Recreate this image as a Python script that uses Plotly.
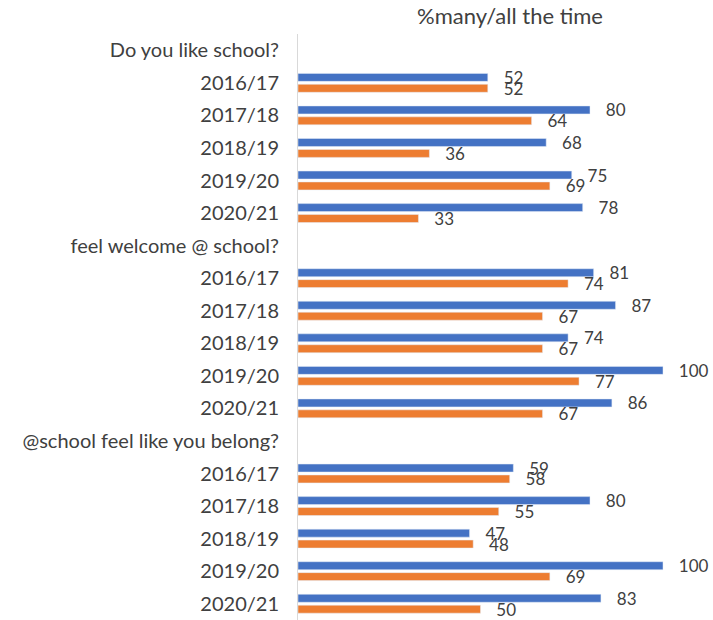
import plotly.graph_objects as go

questions = ["Do you like school?", "feel welcome @ school?", "@school feel like you belong?"]
years = ["2016/17", "2017/18", "2018/19", "2019/20", "2020/21"]
blue_like = [52, 80, 68, 75, 78]
orange_like = [52, 64, 36, 69, 33]
blue_welcome = [81, 87, 74, 100, 86]
orange_welcome = [74, 67, 67, 77, 67]
blue_belong = [59, 80, 47, 100, 83]
orange_belong = [58, 55, 48, 69, 50]
title_text = "%many/all the time"

blue_sets = [blue_like, blue_welcome, blue_belong]
orange_sets = [orange_like, orange_welcome, orange_belong]

ypos, ylabels, bvals, ovals = [], [], [], []
k = 0
for q, bs, os_ in zip(questions, blue_sets, orange_sets):
    ypos.append(k); ylabels.append(q); bvals.append(None); ovals.append(None)
    k += 1
    for yr, b, o in zip(years, bs, os_):
        ypos.append(k); ylabels.append(yr); bvals.append(b); ovals.append(o)
        k += 1

FONT = "Lato, 'Open Sans', sans-serif"
PAD = "\u2002\u00a0"

def labels(vals):
    return [("" if v is None else PAD + str(v)) for v in vals]

fig = go.Figure()
fig.add_trace(go.Bar(
    x=bvals, y=ypos, orientation="h", marker_color="#4472C4",
    text=labels(bvals), textposition="outside", constraintext="none",
    textfont=dict(size=17, color="#404040", family=FONT), cliponaxis=False,
    name="blue"))
fig.add_trace(go.Bar(
    x=ovals, y=ypos, orientation="h", marker_color="#ED7D31",
    text=labels(ovals), textposition="outside", constraintext="none",
    textfont=dict(size=17, color="#404040", family=FONT), cliponaxis=False,
    name="orange"))

fig.update_layout(
    width=713, height=620,
    margin=dict(l=298, r=0, t=34, b=0, autoexpand=False),
    barmode="group", bargap=0.33, bargroupgap=0.27,
    showlegend=False,
    plot_bgcolor="white", paper_bgcolor="white",
    font=dict(family=FONT, size=20, color="#404040"),
    title=dict(text=title_text, x=510 / 713, xanchor="center", y=1 - 16 / 620, yanchor="middle",
               font=dict(size=22, color="#404040", family=FONT)),
    xaxis=dict(range=[0, 113.7], showgrid=False, showticklabels=False, zeroline=False,
               showline=False, ticks=""),
    yaxis=dict(tickvals=ypos, ticktext=ylabels, range=[17.5, -0.5], showgrid=False,
               zeroline=False, showline=True, linecolor="#D9D9D9", linewidth=1,
               ticks="", ticklabelstandoff=14, automargin=False,
               tickfont=dict(size=20, color="#404040", family=FONT)),
)
fig.write_html(
    "out.html",
    config={"displayModeBar": False},
    post_script="document.body.style.margin='0';document.body.style.overflow='hidden';",
)
